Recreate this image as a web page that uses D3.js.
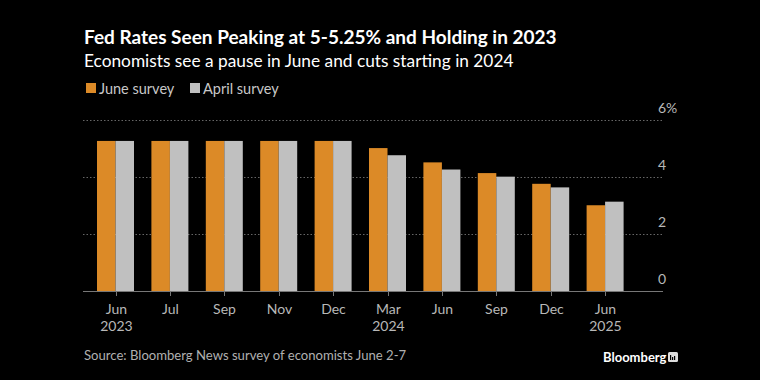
<!DOCTYPE html>
<html><head><meta charset="utf-8">
<script src="https://cdn.jsdelivr.net/npm/d3@7"></script>
<style>
html,body{margin:0;padding:0;background:#000;}
svg{display:block;}
text{font-family:Lato,"Open Sans",sans-serif;}
</style></head>
<body>
<svg id="chart" width="760" height="380"></svg>
<script>
const categories = ["Jun 2023","Jul","Sep","Nov","Dec","Mar 2024","Jun","Sep ","Dec ","Jun 2025"];
const tickLabels = [["Jun","2023"],["Jul"],["Sep"],["Nov"],["Dec"],["Mar","2024"],["Jun"],["Sep"],["Dec"],["Jun","2025"]];
const juneSurvey = [5.25,5.25,5.25,5.25,5.25,5.0,4.5,4.125,3.75,3.0];
const aprilSurvey = [5.25,5.25,5.25,5.25,5.25,4.75,4.25,4.0,3.625,3.125];
const yTicks = [0,2,4,6];
const seriesNames = ["June survey","April survey"];
const colors = ["#dc8a27","#c0c0c0"];

const svg = d3.select("#chart");
svg.append("rect").attr("width",760).attr("height",380).attr("fill","#000");

// Titles
svg.append("text").attr("x",84).attr("y",44).attr("fill","#fff")
  .style("font-size","19px").style("font-weight","700")
  .text("Fed Rates Seen Peaking at 5-5.25% and Holding in 2023");
svg.append("text").attr("x",84).attr("y",67).attr("fill","#fff")
  .style("font-size","17.3px")
  .text("Economists see a pause in June and cuts starting in 2024");

// Legend
const leg = svg.append("g");
const legX = [86,190];
seriesNames.forEach((n,i)=>{
  leg.append("rect").attr("x",legX[i]).attr("y",83).attr("width",10).attr("height",10).attr("fill",colors[i]);
  leg.append("text").attr("x",legX[i]+13).attr("y",93.5).attr("fill","#c8c8c8")
    .style("font-size","14.5px").text(n);
});

const plotLeft = 83, plotRight = 663;
const x = d3.scaleBand().domain(categories).range([88.3,632.3]).paddingInner(0.32).paddingOuter(0.16);
const x1 = d3.scaleBand().domain([0,1]).range([0,x.bandwidth()]);
const y = d3.scaleLinear().domain([0,6]).range([291,119.5]);

// gridlines
const grid = svg.append("g");
yTicks.filter(t=>t>0).forEach(t=>{
  grid.append("line").attr("x1",plotLeft).attr("x2",plotRight)
    .attr("y1",Math.round(y(t))+0.5).attr("y2",Math.round(y(t))+0.5)
    .attr("stroke","#666").attr("stroke-width",1).attr("stroke-dasharray","1.5,2");
});

// bars
const series = [juneSurvey, aprilSurvey];
series.forEach((vals,si)=>{
  svg.append("g").selectAll("rect").data(categories).join("rect")
    .attr("x",(d)=>x(d)+x1(si))
    .attr("width",x1.bandwidth())
    .attr("y",(d,i)=>y(vals[i]))
    .attr("height",(d,i)=>y(0)-y(vals[i]))
    .attr("fill",colors[si]);
});

// baseline
svg.append("line").attr("x1",plotLeft).attr("x2",plotRight)
  .attr("y1",291.5).attr("y2",291.5).attr("stroke","#777").attr("stroke-width",1);

// x axis ticks + labels
const xa = svg.append("g");
categories.forEach((c,i)=>{
  const cx = Math.round(x(c)+x.bandwidth()/2)+0.5;
  xa.append("line").attr("x1",cx).attr("x2",cx).attr("y1",291).attr("y2",296)
    .attr("stroke","#777");
  tickLabels[i].forEach((t,j)=>{
    xa.append("text").attr("x",cx).attr("y",314+j*17).attr("text-anchor","middle")
      .attr("fill","#b8b8b8").style("font-size","14px").text(t);
  });
});

// y labels
yTicks.forEach(t=>{
  svg.append("text").attr("x",658).attr("y",y(t)-7).attr("fill","#b8b8b8")
    .style("font-size","14px").text(t===6? t+"%" : t);
});

// source
svg.append("text").attr("x",84).attr("y",360).attr("fill","#b0b0b0")
  .style("font-size","13.1px").text("Source: Bloomberg News survey of economists June 2-7");

// Bloomberg logo
svg.append("text").attr("x",603).attr("y",362).attr("fill","#fff")
  .style("font-size","13px").style("font-weight","700").text("Bloomberg");
const ic = svg.append("g").attr("transform","translate(668,352)");
ic.append("rect").attr("width",10).attr("height",10).attr("rx",1.5).attr("fill","#ddd");
[[2,5],[4,3],[6,4]].forEach(([bx,bh])=>{
  ic.append("rect").attr("x",bx).attr("y",8-bh).attr("width",1.2).attr("height",bh).attr("fill","#000");
});
</script>
</body></html>
